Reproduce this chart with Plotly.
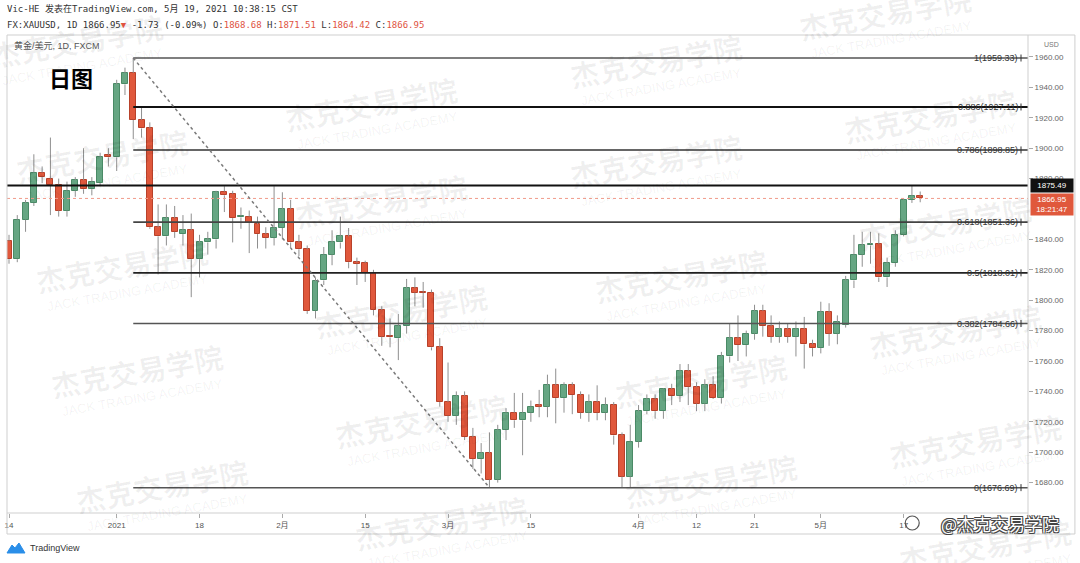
import plotly.graph_objects as go

# ---------------- data ----------------
dates = [
    "2020-12-14", "2020-12-15", "2020-12-16", "2020-12-17", "2020-12-18", "2020-12-21", "2020-12-22",
    "2020-12-23", "2020-12-24", "2020-12-28", "2020-12-29", "2020-12-30", "2020-12-31",
    "2021-01-04", "2021-01-05", "2021-01-06", "2021-01-07", "2021-01-08", "2021-01-11", "2021-01-12",
    "2021-01-13", "2021-01-14", "2021-01-15", "2021-01-18", "2021-01-19", "2021-01-20", "2021-01-21",
    "2021-01-22", "2021-01-25", "2021-01-26", "2021-01-27", "2021-01-28", "2021-01-29",
    "2021-02-01", "2021-02-02", "2021-02-03", "2021-02-04", "2021-02-05", "2021-02-08", "2021-02-09",
    "2021-02-10", "2021-02-11", "2021-02-12", "2021-02-15", "2021-02-16", "2021-02-17", "2021-02-18",
    "2021-02-19", "2021-02-22", "2021-02-23", "2021-02-24", "2021-02-25", "2021-02-26",
    "2021-03-01", "2021-03-02", "2021-03-03", "2021-03-04", "2021-03-05", "2021-03-08", "2021-03-09",
    "2021-03-10", "2021-03-11", "2021-03-12", "2021-03-15", "2021-03-16", "2021-03-17", "2021-03-18",
    "2021-03-19", "2021-03-22", "2021-03-23", "2021-03-24", "2021-03-25", "2021-03-26", "2021-03-29",
    "2021-03-30", "2021-03-31",
    "2021-04-01", "2021-04-02", "2021-04-05", "2021-04-06", "2021-04-07", "2021-04-08", "2021-04-09",
    "2021-04-12", "2021-04-13", "2021-04-14", "2021-04-15", "2021-04-16", "2021-04-19", "2021-04-20",
    "2021-04-21", "2021-04-22", "2021-04-23", "2021-04-26", "2021-04-27", "2021-04-28", "2021-04-29",
    "2021-04-30",
    "2021-05-03", "2021-05-04", "2021-05-05", "2021-05-06", "2021-05-07", "2021-05-10", "2021-05-11",
    "2021-05-12", "2021-05-13", "2021-05-14", "2021-05-17", "2021-05-18", "2021-05-19",
]

opens = [
    1839, 1827, 1853, 1864, 1884, 1880, 1876, 1859, 1872, 1879, 1873, 1877, 1895.5,
    1894, 1942, 1949.5, 1918.6, 1913, 1848, 1842, 1854, 1843.5, 1846, 1827, 1838, 1840, 1871.4,
    1870, 1854.5, 1855, 1850, 1843.5, 1841,
    1847.5, 1860, 1838, 1833.5, 1793, 1813, 1830, 1838, 1842, 1825, 1824.5, 1818, 1793.6, 1776.5,
    1775, 1783, 1808, 1805.5, 1805, 1769,
    1733, 1724, 1737, 1710, 1695.5, 1699.5, 1682, 1714.6, 1726, 1721, 1726, 1731, 1730, 1744,
    1735.6, 1744, 1737.6, 1726, 1733, 1726, 1731, 1711, 1684,
    1707, 1727, 1735, 1727, 1741.6, 1737, 1753.4, 1743, 1732, 1744, 1735.6, 1763, 1775, 1770.5,
    1778, 1793, 1783, 1776, 1781, 1776, 1781, 1771,
    1768.5, 1792, 1778, 1784, 1813, 1830, 1836, 1837, 1815, 1824.5, 1843, 1866, 1868.68,
]
highs = [
    1843, 1856, 1866, 1896, 1888, 1907, 1880, 1878, 1881, 1900, 1881, 1897, 1900,
    1945, 1953, 1959.33, 1927, 1917, 1863, 1863, 1862, 1856, 1857, 1843, 1845, 1872, 1875,
    1872, 1861, 1859, 1855, 1848, 1875,
    1871, 1866, 1843, 1836, 1815, 1835, 1846, 1855, 1847.5, 1828, 1826, 1820, 1796, 1788,
    1791, 1814, 1815, 1812, 1807, 1775,
    1759, 1740, 1740, 1716, 1706, 1713, 1718, 1729, 1739, 1739, 1734, 1741, 1751, 1755,
    1746, 1746, 1740, 1738, 1744, 1736, 1733, 1713, 1718,
    1731, 1738, 1738, 1742, 1745, 1758, 1758, 1746, 1748, 1750, 1766, 1785, 1790, 1780,
    1797, 1797, 1790, 1786, 1785, 1786, 1789, 1774,
    1799, 1798, 1790, 1816, 1843, 1845, 1845, 1844, 1828, 1846, 1867, 1875.49, 1871.51,
]
lows = [
    1824, 1825, 1845, 1862, 1877, 1856, 1855, 1855, 1868, 1870, 1869, 1875, 1888,
    1885, 1935, 1906, 1907, 1847, 1817, 1836, 1841, 1836, 1802, 1815, 1830, 1834, 1858,
    1838, 1847, 1831, 1834, 1834, 1836,
    1840, 1835, 1829, 1791, 1788, 1810, 1823, 1834, 1821, 1810, 1812, 1790, 1770, 1769,
    1760.6, 1778, 1796, 1795, 1767, 1730,
    1720, 1718, 1708, 1689, 1686, 1676.69, 1680, 1708, 1716, 1698, 1720, 1723, 1723, 1719,
    1726, 1725, 1722, 1720, 1721, 1721, 1705, 1677, 1677,
    1703, 1725, 1722, 1722, 1731, 1733, 1731, 1727, 1727, 1735, 1732, 1759, 1760, 1763,
    1774, 1776, 1772, 1772, 1772, 1763, 1755, 1763,
    1765, 1770, 1771, 1782, 1808, 1822, 1824, 1812, 1808.7, 1822, 1842, 1864, 1864.42,
]
closes = [
    1827, 1853, 1864, 1884, 1881, 1876, 1859, 1872, 1879, 1873, 1878, 1894, 1894,
    1942, 1949.5, 1918.6, 1913, 1848, 1842, 1854, 1845, 1846, 1827, 1838, 1840, 1871, 1869,
    1854, 1855.5, 1851, 1843.5, 1841, 1847.5,
    1860, 1838, 1833.5, 1793, 1812.6, 1830, 1838, 1842, 1825, 1824, 1818, 1793.6, 1776, 1775.5,
    1783, 1808, 1805, 1805, 1769, 1733,
    1724, 1737, 1710, 1695.5, 1699.5, 1682, 1714.6, 1726, 1721, 1726, 1730, 1730, 1744, 1735.6,
    1744, 1737.6, 1726, 1733, 1726, 1731, 1711, 1684, 1707,
    1727, 1735, 1727, 1741.6, 1737, 1753.4, 1743, 1732, 1744, 1735.6, 1763, 1775, 1770.5, 1778,
    1793, 1783, 1776, 1781, 1776, 1781, 1771, 1768.5,
    1792, 1778, 1785.7, 1813, 1830, 1836, 1837, 1815, 1824.5, 1843, 1866, 1868.7, 1866.95,
]

fib_values = [1959.33, 1927.11, 1898.85, 1851.36, 1818.01, 1784.66, 1676.69]
fib_labels = ["1(1959.33)", "0.886(1927.11)", "0.786(1898.85)", "0.618(1851.36)",
              "0.5(1818.01)", "0.382(1784.66)", "0(1676.69)"]
fib_start_date = "2021-01-06"
fib_end_date = "2021-03-08"
marked_level = 1875.49
last_price = 1866.95
countdown = "18:21:47"

# 1860.00 is hidden behind the last-price box in the reference
price_ticks = [1680, 1700, 1720, 1740, 1760, 1780, 1800, 1820, 1840, 1880, 1900, 1920, 1940, 1960]
tick_dates = ["2020-12-14", "2021-01-04", "2021-01-18", "2021-02-01", "2021-02-15", "2021-03-01",
              "2021-03-15", "2021-04-01", "2021-04-12", "2021-04-21", "2021-05-03", "2021-05-17"]
tick_texts = ["14", "2021", "18", "2月", "15", "3月", "15", "4月", "12", "21", "5月", "17"]

header1 = "Vic-HE 发表在TradingView.com, 5月 19, 2021 10:38:15 CST"
symbol_line = "FX:XAUUSD, 1D 1866.95"
change_text = "-1.73 (-0.09%)"
ohlc_names = ["O", "H", "L", "C"]
ohlc_last = ["1868.68", "1871.51", "1864.42", "1866.95"]
subtitle = "黄金/美元, 1D, FXCM"
title_big = "日图"
watermark_cn = "杰克交易学院"
watermark_en = "JACK TRADING ACADEMY"

# ---------------- geometry helpers ----------------
W, H = 1080, 563
PL, PR, PT, PB = 5, 1028, 35, 513
X_MIN = -2 / 8.3
X_MAX = X_MIN + (PR - PL) / 8.3
Y_MIN, Y_MAX = 1660.0, 1974.47


def px(x):
    return (x - PL) / (PR - PL)


def py(y):
    return (PB - y) / (PB - PT)


GREEN, GREEN_EDGE = "#66a683", "#4a8a66"
RED, RED_EDGE = "#e0583c", "#b8412a"
WICK = "#8f8f8f"

n = len(dates)
xs = list(range(n))

fig = go.Figure()

# wicks (split so they don't cross bodies)
wx, wy = [], []
for i in xs:
    top = max(opens[i], closes[i])
    bot = min(opens[i], closes[i])
    wx += [i, i, None, i, i, None]
    wy += [highs[i], top, None, bot, lows[i], None]
fig.add_trace(go.Scatter(x=wx, y=wy, mode="lines", line=dict(color=WICK, width=1),
                         hoverinfo="skip", showlegend=False))

# bodies
base = [min(o, c) for o, c in zip(opens, closes)]
length = [max(abs(c - o), 0.7) for o, c in zip(opens, closes)]
fill = [GREEN if c >= o else RED for o, c in zip(opens, closes)]
edge = [GREEN_EDGE if c >= o else RED_EDGE for o, c in zip(opens, closes)]
fig.add_trace(go.Bar(x=xs, y=length, base=base, width=0.72,
                     marker=dict(color=fill, line=dict(color=edge, width=1)),
                     customdata=list(zip(dates, opens, highs, lows, closes)),
                     hovertemplate="%{customdata[0]}<br>O %{customdata[1]}<br>H %{customdata[2]}"
                                   "<br>L %{customdata[3]}<br>C %{customdata[4]}<extra></extra>",
                     showlegend=False))

shapes = []
ann = []

# watermarks
wm_centers = [(75, 40), (370, 103), (655, 60), (885, 12), (930, 115), (100, 155), (380, 200),
              (655, 160), (945, 222), (120, 265), (400, 310), (680, 275), (955, 330), (135, 370),
              (420, 420), (700, 380), (975, 440), (160, 485), (440, 522), (710, 480), (985, 545)]
for cx, cy in wm_centers:
    ann.append(dict(xref="paper", yref="paper", x=px(cx), y=py(cy), text=watermark_cn,
                    showarrow=False, textangle=-10, xanchor="center", yanchor="middle",
                    font=dict(family="Noto Sans CJK SC", size=29, color="rgba(0,0,0,0.06)", weight=700)))
    ann.append(dict(xref="paper", yref="paper", x=px(cx + 6), y=py(cy + 27), text=watermark_en,
                    showarrow=False, textangle=-10, xanchor="center", yanchor="middle",
                    font=dict(family="Liberation Sans", size=13, color="rgba(0,0,0,0.06)")))

# current price dotted line
shapes.append(dict(type="line", xref="paper", yref="y", x0=0, x1=1, y0=last_price, y1=last_price,
                   line=dict(color="#f09a8a", width=1, dash="dot")))

# marked horizontal level
shapes.append(dict(type="line", xref="paper", yref="y", x0=0, x1=1, y0=marked_level, y1=marked_level,
                   line=dict(color="#111111", width=2)))

# fib levels
i0 = dates.index(fib_start_date)
i1 = dates.index(fib_end_date)
fib_widths = [1.6, 2, 1.6, 1.6, 1.8, 1.5, 1.5]
fib_colors = ["#555555", "#111111", "#333333", "#444444", "#222222", "#555555", "#555555"]
for v, lab, lw, lc in zip(fib_values, fib_labels, fib_widths, fib_colors):
    shapes.append(dict(type="line", xref="x", yref="y", x0=i0, x1=X_MAX, y0=v, y1=v,
                       line=dict(color=lc, width=lw)))
    shapes.append(dict(type="line", xref="paper", yref="y", x0=px(1021), x1=px(1021),
                       y0=v - 2.3, y1=v + 2.3, line=dict(color="#333333", width=1)))
    ann.append(dict(xref="paper", yref="y", x=px(1020), y=v, text=lab, showarrow=False,
                    xanchor="right", yanchor="middle",
                    font=dict(family="Liberation Sans", size=9, color="#333333")))

# diagonal dotted fib line
shapes.append(dict(type="line", xref="x", yref="y", x0=i0, y0=fib_values[0], x1=i1, y1=fib_values[-1],
                   line=dict(color="#7a7a7a", width=1.5, dash="dot")))

# frames
frame = "#cfcfcf"
shapes += [
    dict(type="rect", xref="paper", yref="paper", x0=0, x1=1, y0=0, y1=1, line=dict(color=frame, width=1)),
    dict(type="line", xref="paper", yref="paper", x0=px(1075), x1=px(1075), y0=py(PT), y1=py(534),
         line=dict(color=frame, width=1)),
    dict(type="line", xref="paper", yref="paper", x0=1, x1=px(1075), y0=1, y1=1,
         line=dict(color=frame, width=1)),
    dict(type="line", xref="paper", yref="paper", x0=0, x1=px(1075), y0=py(534), y1=py(534),
         line=dict(color=frame, width=1)),
    dict(type="line", xref="paper", yref="paper", x0=0, x1=0, y0=0, y1=py(534),
         line=dict(color=frame, width=1)),
    dict(type="line", xref="paper", yref="paper", x0=1, x1=1, y0=0, y1=py(534),
         line=dict(color=frame, width=1)),
]

# TradingView logo (simple blue cloud)
logo_pts = [(5, 553), (10, 545), (13, 548), (17, 543), (23, 553)]
path = "M " + " L ".join(f"{px(a):.5f},{py(b):.5f}" for a, b in logo_pts) + " Z"
shapes.append(dict(type="path", xref="paper", yref="paper", path=path,
                   fillcolor="#2a8ee8", line=dict(color="#2a8ee8", width=1)))
ann.append(dict(xref="paper", yref="paper", x=px(26), y=py(548), text="TradingView", showarrow=False,
                xanchor="left", yanchor="middle", font=dict(family="Liberation Sans", size=9, color="#333333")))

# header texts
mono = "DejaVu Sans Mono, Noto Sans CJK SC"
ann.append(dict(xref="paper", yref="paper", x=px(3), y=py(9), text=header1, showarrow=False,
                xanchor="left", yanchor="middle", font=dict(family=mono, size=9, color="#333333")))
red_c = "#e0533f"
line2 = (symbol_line + f"<span style='color:{red_c}'>▼</span> " + change_text + " "
         + " ".join(f"{k}:<span style='color:{red_c}'>{v}</span>" for k, v in zip(ohlc_names, ohlc_last)))
ann.append(dict(xref="paper", yref="paper", x=px(3), y=py(25), text=line2, showarrow=False,
                xanchor="left", yanchor="middle", font=dict(family=mono, size=9, color="#333333")))
ann.append(dict(xref="paper", yref="paper", x=px(10), y=py(46), text=subtitle, showarrow=False,
                xanchor="left", yanchor="middle",
                font=dict(family="Liberation Sans, Noto Sans CJK SC", size=9, color="#555555")))
ann.append(dict(xref="paper", yref="paper", x=px(69), y=py(77), text=title_big, showarrow=False,
                xanchor="center", yanchor="middle",
                font=dict(family="Noto Sans CJK SC", size=22, color="#000000", weight=700)))

# axis unit + price boxes
ann.append(dict(xref="paper", yref="paper", x=px(1052), y=py(44), text="USD", showarrow=False,
                xanchor="center", yanchor="middle", font=dict(family="Liberation Sans", size=7, color="#777777")))
ann.append(dict(xref="paper", yref="y", x=px(1030), y=marked_level, text=f"{marked_level:.2f}",
                showarrow=False, xanchor="left", yanchor="middle", width=40, height=11, align="center",
                bgcolor="#111111", font=dict(family="Liberation Sans", size=8, color="#ffffff")))
ann.append(dict(xref="paper", yref="paper", x=px(1030), y=py(193),
                text=f"{last_price:.2f}<br>{countdown}", showarrow=False, xanchor="left", yanchor="top",
                width=40, align="center", bgcolor="#e0583c",
                font=dict(family="Liberation Sans", size=8, color="#ffffff")))

# weibo watermark
shapes.append(dict(type="circle", xref="paper", yref="paper", x0=px(905), x1=px(919), y0=py(530), y1=py(516),
                   line=dict(color="#555555", width=1.2)))
ann.append(dict(xref="paper", yref="paper", x=px(1000), y=py(523), text="@" + watermark_cn, showarrow=False,
                xanchor="center", yanchor="middle",
                font=dict(family="Noto Sans CJK SC", size=17, color="#ffffff",
                          shadow="1px 1px 0 #444, -1px -1px 0 #444, 1px -1px 0 #444, -1px 1px 0 #444")))

fig.update_layout(
    width=W, height=H,
    margin=dict(l=PL, r=W - PR, t=PT, b=H - PB),
    paper_bgcolor="#ffffff", plot_bgcolor="#ffffff",
    shapes=shapes, annotations=ann,
    bargap=0, showlegend=False,
    xaxis=dict(range=[X_MIN, X_MAX], showgrid=False, zeroline=False, showline=False,
               tickmode="array", tickvals=[dates.index(d) for d in tick_dates], ticktext=tick_texts,
               ticks="outside", ticklen=4, tickcolor="#aaaaaa",
               tickfont=dict(family="Liberation Sans, Noto Sans CJK SC", size=8, color="#555555")),
    yaxis=dict(range=[Y_MIN, Y_MAX], side="right", showgrid=False, zeroline=False, showline=False,
               tickmode="array", tickvals=price_ticks, ticktext=[f"{v:.2f}" for v in price_ticks],
               ticks="outside", ticklen=4, tickcolor="#aaaaaa",
               tickfont=dict(family="Liberation Sans", size=8, color="#666666")),
)

fig.write_html("out.html", config={"displayModeBar": False},
               post_script="document.body.style.margin='0';document.body.style.overflow='hidden';")
